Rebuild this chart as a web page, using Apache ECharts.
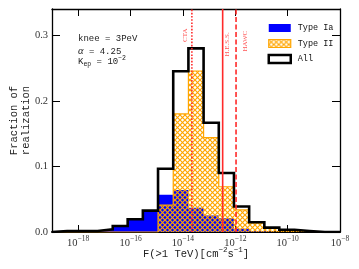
<!DOCTYPE html>
<html><head><meta charset="utf-8">
<script src="https://cdn.jsdelivr.net/npm/echarts@6/dist/echarts.min.js"></script>
<style>html,body{margin:0;padding:0;background:#fff}#c{width:359px;height:269px}</style>
</head><body><div id="c"></div>
<script>
// bin edges, as log10 of F(>1 TeV) [cm^-2 s^-1]
const binEdgesExp = [-19, -18.42, -17.84, -17.26, -16.68, -16.11, -15.53, -14.95, -14.37, -13.79, -13.21, -12.63, -12.05, -11.47, -10.89, -10.32, -9.74, -9.16, -8.58, -8];
// fraction of realizations per bin
const typeIa = [0.0015, 0.0015, 0.0015, 0.004, 0.0092, 0.0194, 0.0326, 0.0567, 0.064, 0.037, 0.025, 0.021, 0.005, 0.001, 0, 0, 0, 0, 0];
const typeII = [0, 0, 0, 0, 0, 0, 0, 0.041, 0.180, 0.2455, 0.144, 0.069, 0.0337, 0.0138, 0.0062, 0.003, 0.0015, 0, 0];
const allSNR = [0.0015, 0.0015, 0.0015, 0.004, 0.0092, 0.0194, 0.0326, 0.0965, 0.245, 0.280, 0.1665, 0.090, 0.0388, 0.0148, 0.0066, 0.0035, 0.0015, 0, 0];
// detector sensitivities
const detNames = ['CTA', 'H.E.S.S.', 'HAWC'];
const detFlux = [2.2e-14, 3.3e-13, 1.07e-12];
const detLabelY = [0.300, 0.286, 0.291];
// ticks
const xTickExp = [-18, -16, -14, -12, -10, -8];
const yTicks = [0, 0.1, 0.2, 0.3];

const ORANGE = '#ffa500';
const RED = '#ff2a2a';
const MONO = 'Liberation Mono';
const SERIF = 'Liberation Serif';
const Y_MAX = 0.34;

function makeHatch() {
  const s = 5, c = document.createElement('canvas');
  c.width = s; c.height = s;
  const g = c.getContext('2d');
  g.strokeStyle = ORANGE; g.lineWidth = 1.2;
  g.beginPath();
  g.moveTo(-1, -1); g.lineTo(s + 1, s + 1);
  g.moveTo(-1, s + 1); g.lineTo(s + 1, -1);
  g.stroke();
  return c;
}
const hatch = { image: makeHatch(), repeat: 'repeat' };

const edges = binEdgesExp.map(e => Math.pow(10, e));
function stepData(vals) {
  const d = [[edges[0], 0]];
  vals.forEach((v, i) => d.push([edges[i], v]));
  d.push([edges[edges.length - 1], 0]);
  return d;
}
const xTickVals = xTickExp.map(e => Math.pow(10, e));
function xLabel(v) {
  const e = Math.round(Math.log10(v));
  return '{b|10}{s|\u2212' + Math.abs(e) + '}';
}

const chart = echarts.init(document.getElementById('c'), null, { renderer: 'canvas' });
const detStyles = [[1.6, 1.6], 'solid', [5, 2.5]];
const detOffset = [[0, -7], [0, 4.5], [0, 9]];

const detSeries = detNames.map((n, i) => ({
  name: n, type: 'line', data: [[detFlux[i], 0], [detFlux[i], Y_MAX]], symbol: 'none', z: 5,
  lineStyle: { color: RED, width: 1.6, type: detStyles[i] }, silent: true
}));
const detLabelSeries = {
  name: 'labels', type: 'scatter', symbolSize: 0, z: 6, silent: true,
  data: detNames.map((n, i) => ({ name: n, value: [detFlux[i], detLabelY[i]],
    label: { offset: detOffset[i] } })),
  label: { show: true, formatter: '{b}', rotate: 90, position: 'inside', color: RED, fontFamily: SERIF, fontSize: 7 }
};

chart.setOption({
  animation: false,
  backgroundColor: '#fff',
  grid: { left: 52, right: 19, top: 9, bottom: 37, outerBoundsMode: 'none' },
  xAxis: [{
    type: 'log', logBase: 10, min: 1e-19, max: 1e-8, position: 'bottom',
    axisLine: { show: true, onZero: false, lineStyle: { color: '#000', width: 2 } },
    axisTick: { show: true, inside: true, length: 7, lineStyle: { color: '#000', width: 1 }, customValues: xTickVals },
    minorTick: { show: false },
    axisLabel: {
      customValues: xTickVals, formatter: xLabel, margin: 3, color: '#333',
      rich: {
        b: { fontFamily: SERIF, fontSize: 10.5, color: '#333' },
        s: { fontFamily: SERIF, fontSize: 7.5, color: '#333', padding: [0, 0, 8, 0] }
      }
    },
    splitLine: { show: false },
    name: '{m|F(>1 TeV)[cm}{s|\u22122}{m|s}{s|\u22121}{m|]}',
    nameLocation: 'middle', nameGap: 14, nameMoveOverlap: false,
    nameTextStyle: {
      rich: {
        m: { fontFamily: MONO, fontSize: 10.5, color: '#222' },
        s: { fontFamily: MONO, fontSize: 7.5, color: '#222', padding: [0, 0, 8, 0] }
      }
    }
  }, {
    type: 'log', logBase: 10, min: 1e-19, max: 1e-8, position: 'top',
    axisLine: { show: true, onZero: false, lineStyle: { color: '#000', width: 1.3 } },
    axisTick: { show: true, inside: true, length: 7, lineStyle: { color: '#000', width: 1 }, customValues: xTickVals },
    axisLabel: { show: false },
    splitLine: { show: false }
  }],
  yAxis: [{
    type: 'value', min: 0, max: Y_MAX, position: 'left',
    axisLine: { show: true, lineStyle: { color: '#000', width: 1.3 } },
    axisTick: { show: true, inside: true, length: 8, lineStyle: { color: '#000', width: 1 }, customValues: yTicks },
    axisLabel: { customValues: yTicks, formatter: v => v.toFixed(1), fontFamily: SERIF, fontSize: 10.5, color: '#333', margin: 4 },
    splitLine: { show: false },
    name: 'Fraction of\nrealization', nameLocation: 'middle', nameGap: 20, nameMoveOverlap: false,
    nameTextStyle: { fontFamily: MONO, fontSize: 10.5, color: '#222', lineHeight: 12 }
  }, {
    type: 'value', min: 0, max: Y_MAX, position: 'right',
    axisLine: { show: true, lineStyle: { color: '#000', width: 1.3 } },
    axisTick: { show: true, inside: true, length: 8, lineStyle: { color: '#000', width: 1 }, customValues: yTicks },
    axisLabel: { show: false },
    splitLine: { show: false }
  }],
  legend: {
    orient: 'vertical', left: 262.5, top: 17, itemWidth: 22, itemHeight: 8, itemGap: 3.5,
    textStyle: { fontFamily: MONO, fontSize: 8.5, color: '#111', lineHeight: 12, padding: [0, 0, 0, 2] },
    selectedMode: false,
    data: [
      { name: 'Type Ia', icon: 'rect', itemStyle: { color: '#0000ff', borderWidth: 0 } },
      { name: 'Type II', icon: 'rect', itemStyle: { color: hatch, borderColor: ORANGE, borderWidth: 1.2 } },
      { name: 'All', icon: 'rect', itemStyle: { color: '#fff', borderColor: '#000', borderWidth: 2.5 } }
    ]
  },
  graphic: [
    { type: 'text', left: 78, top: 34, z: 10, style: { text: 'knee = 3PeV', fontFamily: MONO, fontSize: 9, fill: '#222' } },
    { type: 'text', left: 78, top: 46, z: 10, style: { text: '{a|\u03b1} = 4.25', fontFamily: MONO, fontSize: 9, fill: '#222',
      rich: { a: { fontFamily: SERIF, fontStyle: 'italic', fontSize: 10.5, fill: '#222' } } } },
    { type: 'text', left: 78, top: 55, z: 10, style: { text: 'K{d|ep} = 10{u|\u22122}', fontFamily: MONO, fontSize: 9, fill: '#222',
      rich: { d: { fontFamily: MONO, fontSize: 6.5, fill: '#222', padding: [5, 0, 0, 0] }, u: { fontFamily: MONO, fontSize: 6.5, fill: '#222', padding: [0, 0, 7, 0] } } } }
  ],
  series: [{
    name: 'Type Ia', type: 'line', step: 'end', data: stepData(typeIa), symbol: 'none', z: 2,
    lineStyle: { width: 0, color: '#0000ff' }, itemStyle: { color: '#0000ff' },
    areaStyle: { color: '#0000ff', opacity: 1 }
  }, {
    name: 'Type II', type: 'line', step: 'end', data: stepData(typeII), symbol: 'none', z: 3,
    lineStyle: { width: 1.2, color: ORANGE }, itemStyle: { color: ORANGE },
    areaStyle: { color: hatch, opacity: 1 }
  }, {
    name: 'All', type: 'line', step: 'end', data: stepData(allSNR), symbol: 'none', z: 4,
    lineStyle: { width: 2.6, color: '#000', join: 'miter' }, itemStyle: { color: '#000' }
  }].concat(detSeries, [detLabelSeries])
});
</script>
</body></html>
